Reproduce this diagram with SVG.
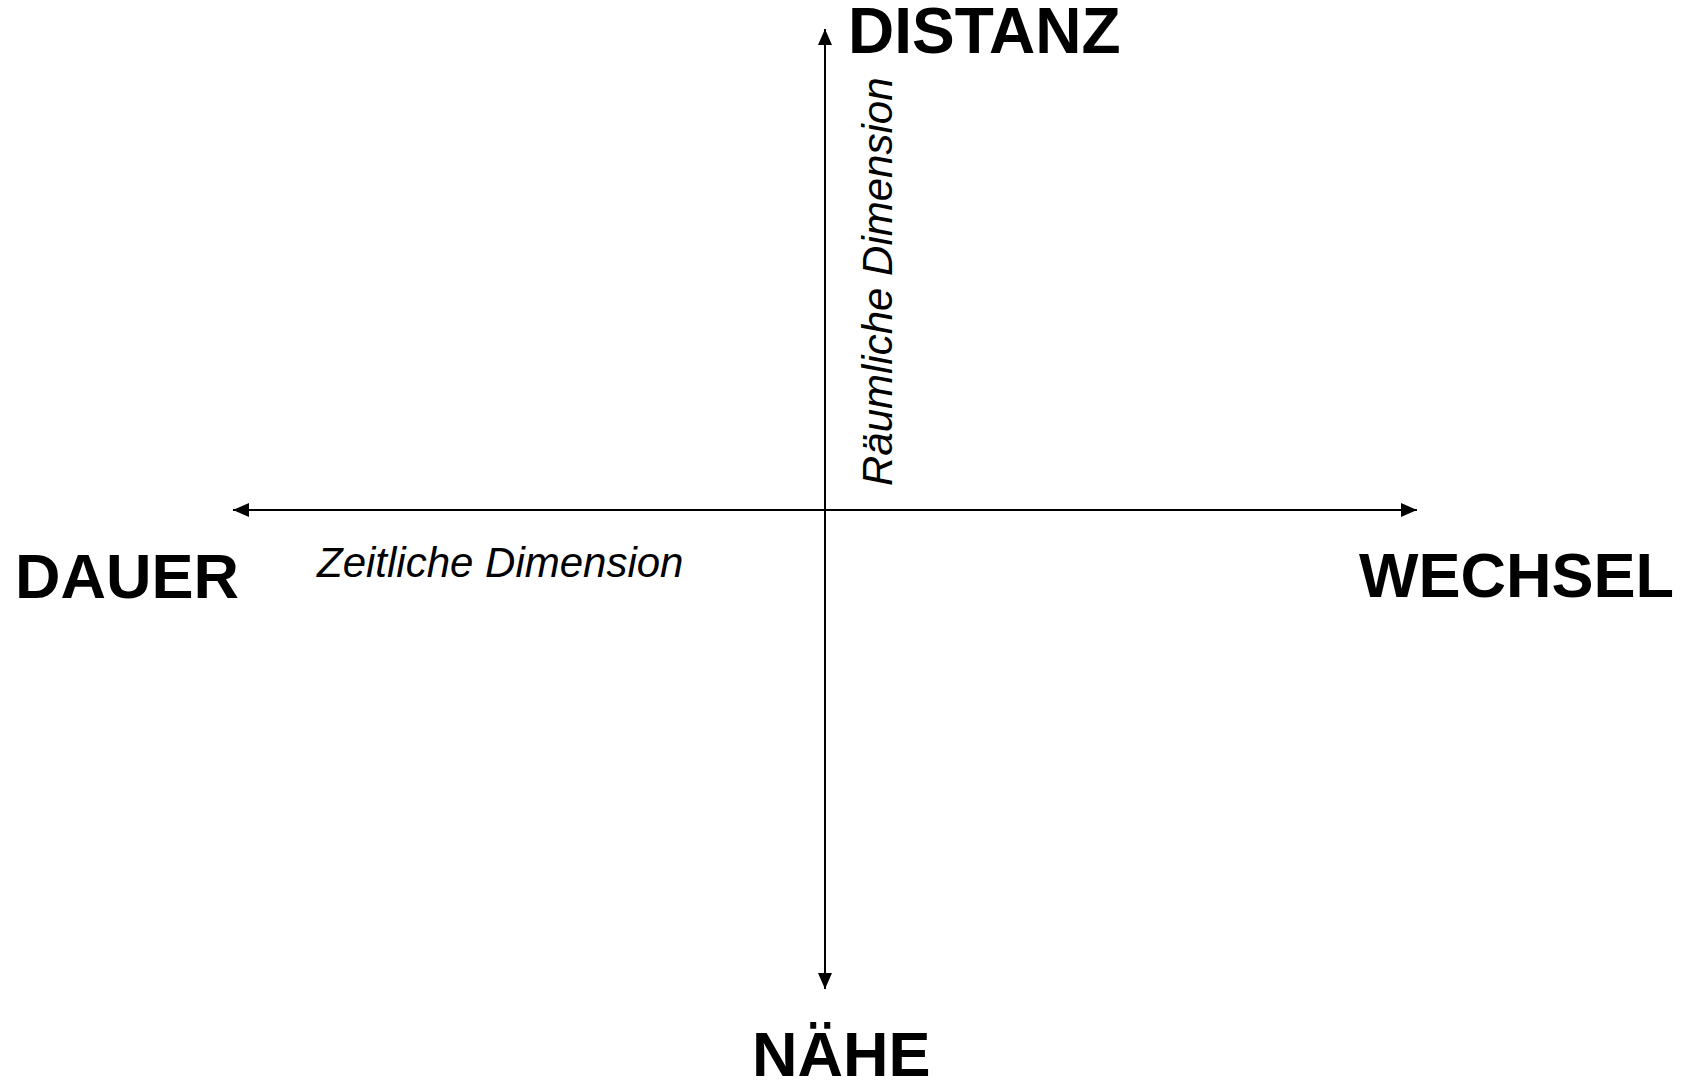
<svg xmlns="http://www.w3.org/2000/svg" width="1688" height="1082" viewBox="0 0 1688 1082">
  <style>
    .pole { font-family: "Liberation Sans", Arial, sans-serif; font-weight: bold; font-size: 63px; fill: #000; }
    .dim { font-family: "Liberation Sans", Arial, sans-serif; font-style: italic; font-size: 42px; fill: #000; }
    .axis { stroke: #000; stroke-width: 2; fill: none; }
  </style>
  <defs>
    <marker id="arrow" viewBox="0 0 16 14" refX="16" refY="7" markerWidth="16" markerHeight="14" markerUnits="userSpaceOnUse" orient="auto-start-reverse">
      <path d="M0,0 L16,7 L0,14 Z" fill="#000"/>
    </marker>
  </defs>
  <rect width="1688" height="1082" fill="#fff"/>

  <!-- axes -->
  <g id="connectors">
    <line class="axis" x1="233" y1="510" x2="1417" y2="510" marker-start="url(#arrow)" marker-end="url(#arrow)"/>
    <line class="axis" x1="825" y1="29" x2="825" y2="989" marker-start="url(#arrow)" marker-end="url(#arrow)"/>
  </g>

  <!-- pole labels -->
  <g id="distanz"><text class="pole" x="848" y="53" style="font-size:64px">DISTANZ</text></g>
  <g id="naehe"><text class="pole" x="752" y="1076">NÄHE</text></g>
  <g id="dauer"><text class="pole" x="15" y="598">DAUER</text></g>
  <g id="wechsel"><text class="pole" x="1359" y="597">WECHSEL</text></g>

  <!-- axis captions -->
  <g id="zeitliche"><text class="dim" x="317" y="577">Zeitliche Dimension</text></g>
  <g id="raeumliche"><text class="dim" transform="translate(892,486) rotate(-90)">Räumliche Dimension</text></g>
</svg>
